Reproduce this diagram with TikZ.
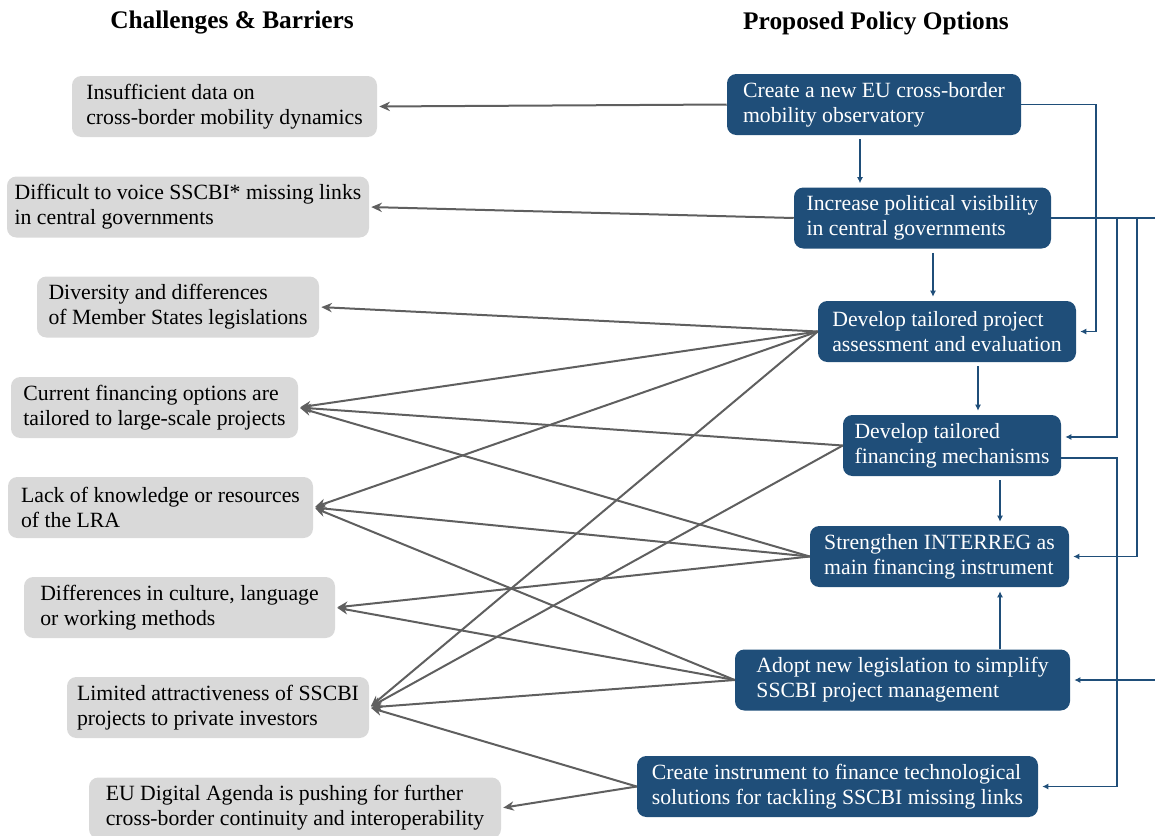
\documentclass[tikz,border=0pt]{standalone}
\usepackage{fontspec}
\setmainfont{Liberation Serif}
\usetikzlibrary{arrows.meta}

\definecolor{policyblue}{RGB}{31,78,121}
\definecolor{barriergray}{RGB}{217,217,217}
\definecolor{linkgray}{RGB}{95,95,95}

\tikzset{
	barrier/.style={fill=barriergray, rounded corners=7pt, minimum height=45.75pt, align=left, font=\fontsize{16.3}{18.75}\selectfont},
	policy/.style={barrier, fill=policyblue, text=white},
	link/.style={-{Stealth[length=8pt, width=7pt]}, linkgray, line width=1.5pt, shorten >=1.5pt},
	flow/.style={-{Latex[length=4.5pt, width=4.5pt]}, policyblue, line width=1.4pt, shorten >=3pt},
	head/.style={font=\fontsize{19}{22}\selectfont\bfseries}
}

\begin{document}
\begin{tikzpicture}[x=0.75pt, y=-0.75pt]
	\clip (0,0) rectangle (1155,835);

	\node[head] (hleft) at (232,23) {Challenges \& Barriers};
	\node[head] (hright) at (876,23) {Proposed Policy Options};

	% challenges and barriers
	\node[barrier, minimum width=228.75pt] (l1) at (224.5,106.5) {Insufficient data on\\cross-border mobility dynamics};
	\node[barrier, minimum width=271.5pt] (l2) at (188,207) {Difficult to voice SSCBI* missing links\\in central governments};
	\node[barrier, minimum width=211.5pt] (l3) at (178,307) {Diversity and differences\\of Member States legislations};
	\node[barrier, minimum width=215.25pt] (l4) at (154.5,407.5) {Current financing options are\\tailored to large-scale projects};
	\node[barrier, minimum width=228.75pt] (l5) at (160.5,507.5) {Lack of knowledge or resources\\of the LRA};
	\node[barrier, minimum width=233.25pt] (l6) at (179.5,607.5) {Differences in culture, language\\or working methods};
	\node[barrier, minimum width=226.5pt] (l7) at (218,707.5) {Limited attractiveness of SSCBI\\projects to private investors};
	\node[barrier, minimum width=309pt] (l8) at (295,808) {EU Digital Agenda is pushing for further\\cross-border continuity and interoperability};

	% policy options
	\node[policy, minimum width=220.5pt] (r1) at (874,104.5) {Create a new EU cross-border\\mobility observatory};
	\node[policy, minimum width=192.75pt] (r2) at (922.5,218) {Increase political visibility\\in central governments};
	\node[policy, minimum width=193.5pt] (r3) at (947,331.5) {Develop tailored project\\assessment and evaluation};
	\node[policy, minimum width=163.5pt] (r4) at (952,445.5) {Develop tailored\\financing mechanisms};
	\node[policy, minimum width=194.25pt] (r5) at (939.5,556.5) {Strengthen INTERREG as\\main financing instrument};
	\node[policy, minimum width=251.25pt] (r6) at (902.5,680) {Adopt new legislation to simplify\\SSCBI project management};
	\node[policy, minimum width=300.75pt] (r7) at (837.5,786.5) {Create instrument to finance technological\\solutions for tackling SSCBI missing links};

	\foreach \p/\b in {r1/l1, r2/l2, r3/l3, r3/l4, r3/l5, r3/l7, r4/l4, r4/l7,
		r5/l4, r5/l5, r5/l6, r6/l5, r6/l6, r6/l7, r7/l7, r7/l8}
	    {
		  \draw [link] (\p.west) -- (\b.east);
	    }

	\foreach \a/\b/\x in {r1/r2/860, r2/r3/933, r3/r4/978, r4/r5/1000}
	    {
		  \draw [flow, shorten <=3pt] (\a.south -| \x,0) -- (\b.north -| \x,0);
	    }
	\draw [flow] (r6.north -| 1000,0) -- (r5.south -| 1000,0);

	% side lines
	\coordinate (bus1) at (1096,0);
	\coordinate (bus2) at (1117,0);
	\coordinate (bus3) at (1137,0);
	\coordinate (edge) at (1160,0);
	\coordinate (r4in) at ([yshift=6.4pt]r4.east);
	\coordinate (r4out) at ([yshift=-9.4pt]r4.east);

	\draw [flow] (r1.east) -- (r1.east -| bus1) -- (r3.east -| bus1) -- (r3.east);
	\draw [flow] (r2.east -| bus2) -- (r4in -| bus2) -- (r4in);
	\draw [flow] (r2.east -| bus3) -- (r5.east -| bus3) -- (r5.east);
	\draw [flow] (r2.east) -- (r2.east -| edge) -- (r6.east -| edge) -- (r6.east);
	\draw [flow] (r4out) -- (r4out -| bus2) -- (r7.east -| bus2) -- (r7.east);
\end{tikzpicture}
\end{document}
